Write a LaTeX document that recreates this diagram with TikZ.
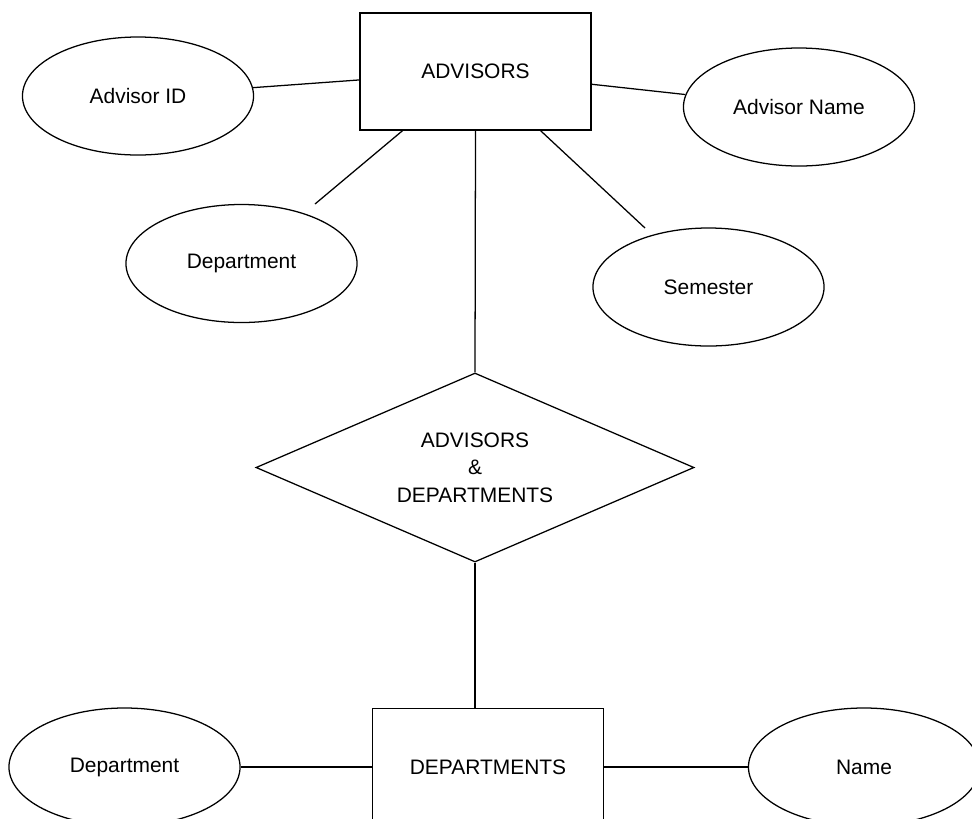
\documentclass[tikz,border=0pt]{standalone}
\usepackage{fontspec}
\setmainfont{Liberation Sans}
\usetikzlibrary{positioning,shapes.geometric,calc}

\begin{document}
\begin{tikzpicture}[
    x=0.025cm, y=-0.025cm, % one unit = one pixel of the sketch
    line width=0.9pt,
    font=\fontsize{14.9}{19.5}\selectfont,
    % styles
    entity/.style={
        draw,
        minimum width=5.775cm,
        minimum height=2.925cm
    },
    attribute/.style={
        draw,
        ellipse,
        minimum width=5.775cm,
        minimum height=2.95cm
    },
    relation/.style={
        draw,
        diamond,
        aspect=2.3,
        align=center,
        minimum width=10.95cm,
        minimum height=4.725cm
    },
    link/.style={line width=0.9pt}
]

    \clip (0,0) rectangle (972,818);

    % --- 1. ADVISORS and its attributes ---
    \node[entity] (advisors) at (475.5,71.5) {ADVISORS};
    \node[attribute] (advid) at (138,96) {Advisor ID};
    \node[attribute] (advname) at (799,107) {Advisor Name};
    \node[attribute] (advdept) at (241.5,263.5) {Department};
    \node[attribute] (semester) at (708.5,287) {Semester};

    % free ends of the two slanted lines
    \coordinate (advdeptend) at (315,204);
    \coordinate (semesterend) at (645,228);

    % --- 2. Relationship ---
    \node[relation] (advdepts) at (475,467.5) {ADVISORS\\\&\\DEPARTMENTS};

    % --- 3. DEPARTMENTS and its attributes ---
    \node[entity] (departments) at (488,767) {DEPARTMENTS};
    \node[attribute] (deptname) at (124.5,767) {Department};
    \node[attribute] (name) at (864,767) {Name};

    % --- 4. Lines ---
    \draw[link] (advid) -- (advisors);
    \draw[link] (advisors) -- (advname);
    \draw[link] ($(advisors.south west)!0.186!(advisors.south east)$) -- (advdeptend);
    \draw[link] ($(advisors.south west)!0.78!(advisors.south east)$) -- (semesterend);
    \draw[link] (advisors.south) -- (advdepts.north);
    \draw[link] (advdepts.south) -- (advdepts.south |- departments.north);
    \draw[link] (deptname) -- (departments);
    \draw[link] (departments) -- (name);

\end{tikzpicture}
\end{document}
